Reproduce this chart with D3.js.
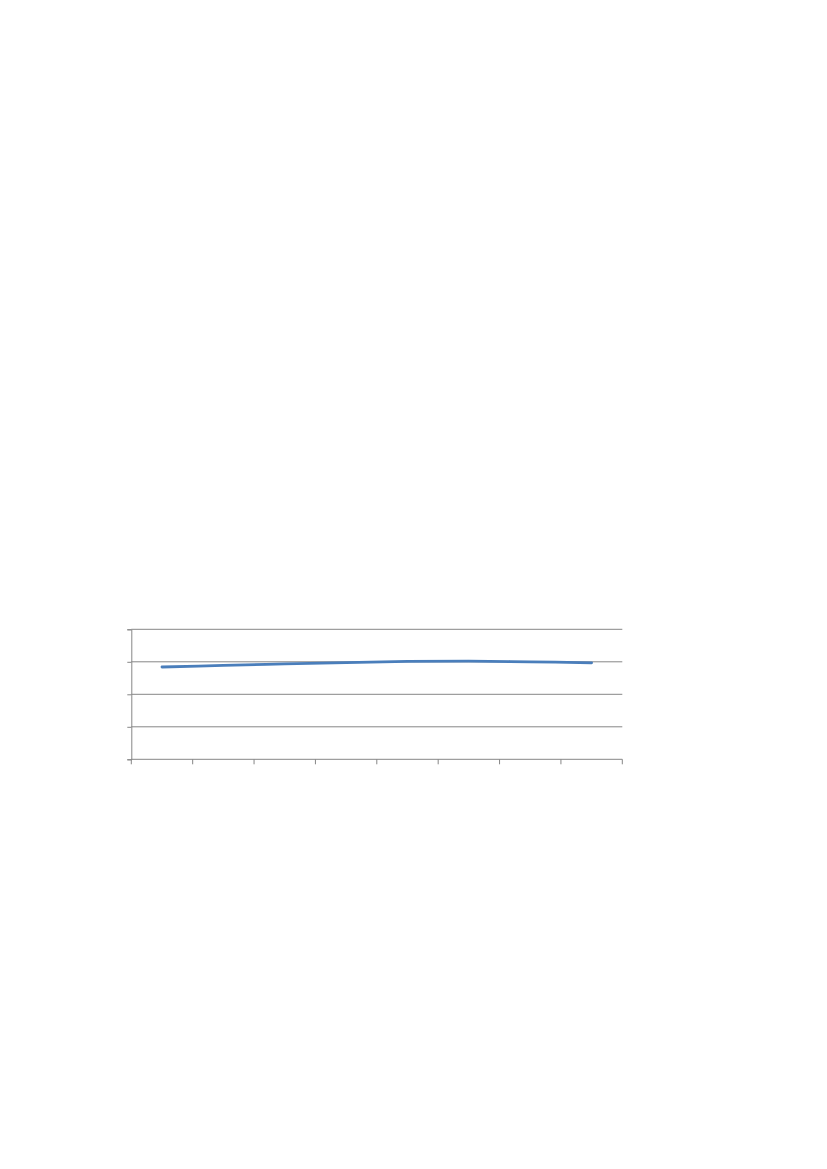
<!DOCTYPE html>
<html>
<head>
<meta charset="utf-8">
<script src="https://cdn.jsdelivr.net/npm/d3@7"></script>
<style>
  body { margin: 0; background: #fff; }
</style>
</head>
<body>
<svg id="chart" width="827" height="1169"></svg>
<script>
// categories along the x axis (no labels shown in the original)
const categories = ['1', '2', '3', '4', '5', '6', '7', '8'];
// series values
const values = [2.84, 2.89, 2.935, 2.975, 3.01, 3.02, 3.0, 2.97];
// y ticks (gridlines, unlabeled)
const yTicks = [0, 1, 2, 3, 4];

const svg = d3.select('#chart');
const margin = { top: 629.3, left: 131.3, right: 827 - 622.3, bottom: 1169 - 759.3 };
const width = 827;
const height = 1169;

const x = d3.scaleBand()
  .domain(categories)
  .range([margin.left, width - margin.right]);

const y = d3.scaleLinear()
  .domain([0, 4])
  .range([height - margin.bottom, margin.top]);

const gridColor = '#868686';

// gridlines
svg.append('g')
  .selectAll('line')
  .data(yTicks.slice(1))
  .join('line')
  .attr('x1', margin.left)
  .attr('x2', width - margin.right)
  .attr('y1', d => y(d))
  .attr('y2', d => y(d))
  .attr('stroke', gridColor)
  .attr('stroke-width', 1);

// y axis
const yAxis = svg.append('g')
  .attr('transform', `translate(${margin.left},0)`)
  .call(d3.axisLeft(y).tickValues(yTicks).tickSize(4).tickFormat(''));
yAxis.selectAll('path, line').attr('stroke', gridColor);

// x axis: ticks at band edges
const edges = categories.map(c => x(c)).concat([x.range()[1]]);
const xAxis = svg.append('g')
  .attr('transform', `translate(0,${height - margin.bottom})`);
xAxis.append('line')
  .attr('x1', margin.left)
  .attr('x2', width - margin.right)
  .attr('stroke', gridColor);
xAxis.selectAll('.tick')
  .data(edges)
  .join('line')
  .attr('class', 'tick')
  .attr('x1', d => d)
  .attr('x2', d => d)
  .attr('y1', 0)
  .attr('y2', 5)
  .attr('stroke', gridColor);

// the series line
const line = d3.line()
  .x((d, i) => x(categories[i]) + x.bandwidth() / 2)
  .y(d => y(d))
  .curve(d3.curveCatmullRom);

svg.append('path')
  .datum(values)
  .attr('d', line)
  .attr('fill', 'none')
  .attr('stroke', '#4a7ebb')
  .attr('stroke-width', 2.8)
  .attr('stroke-linecap', 'round');
</script>
</body>
</html>
